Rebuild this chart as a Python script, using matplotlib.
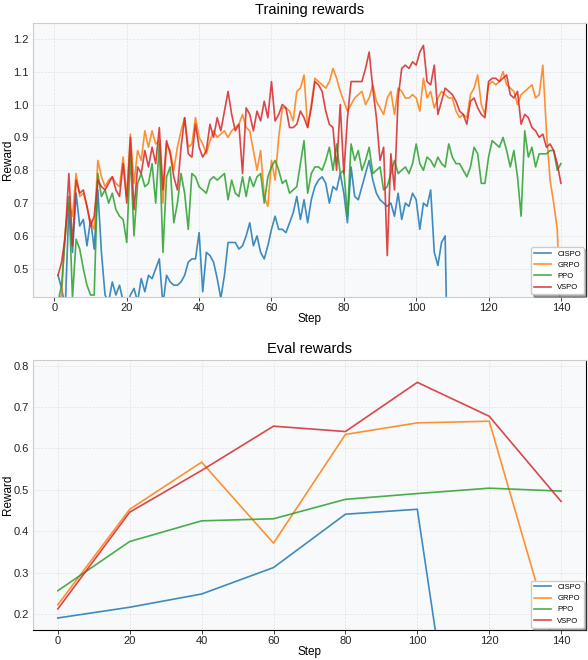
import matplotlib.pyplot as plt
import numpy as np

plt.rcParams['font.family'] = ['Liberation Sans', 'DejaVu Sans']

# training rewards, one value per step (1..140)
train_steps = list(range(1, 141))

vspo_train = [
    0.48, 0.52, 0.60, 0.79, 0.57, 0.77, 0.73, 0.74, 0.69, 0.63,
    0.66, 0.77, 0.75, 0.74, 0.76, 0.78, 0.74, 0.72, 0.82, 0.70,
    0.90, 0.68, 0.81, 0.79, 0.86, 0.81, 0.87, 0.82, 0.93, 0.74,
    0.89, 0.85, 0.78, 0.74, 0.87, 0.96, 0.85, 0.84, 0.94, 0.87,
    0.84, 0.86, 0.94, 0.90, 0.96, 0.92, 0.98, 1.04, 0.97, 0.92,
    0.94, 0.79, 0.99, 0.97, 0.92, 0.98, 0.95, 1.01, 0.96, 1.07,
    0.95, 0.97, 1.00, 0.99, 0.93, 0.93, 0.94, 0.98, 0.96, 0.93,
    0.99, 1.07, 1.06, 1.04, 0.98, 0.94, 0.93, 0.80, 1.00, 0.79,
    0.96, 1.07, 1.07, 1.07, 1.07, 1.11, 1.16, 1.05, 0.96, 0.83,
    0.87, 0.54, 0.85, 0.74, 1.02, 1.11, 1.12, 1.11, 1.13, 1.12,
    1.16, 1.18, 1.07, 1.06, 1.12, 0.97, 1.01, 1.05, 1.04, 1.03,
    1.01, 0.98, 0.97, 0.94, 1.01, 1.02, 0.99, 0.97, 0.96, 1.07,
    1.08, 1.08, 1.07, 1.08, 1.09, 1.03, 1.02, 1.04, 0.94, 0.97,
    0.96, 0.93, 0.92, 0.90, 0.91, 0.87, 0.88, 0.86, 0.82, 0.76,
]

grpo_train = [
    0.40, 0.42, 0.62, 0.70, 0.66, 0.79, 0.72, 0.73, 0.69, 0.64,
    0.62, 0.83, 0.78, 0.75, 0.77, 0.78, 0.76, 0.75, 0.84, 0.72,
    0.91, 0.76, 0.86, 0.83, 0.92, 0.87, 0.92, 0.88, 0.89, 0.70,
    0.88, 0.86, 0.80, 0.87, 0.92, 0.96, 0.87, 0.88, 0.96, 0.90,
    0.88, 0.85, 0.89, 0.92, 0.90, 0.91, 0.92, 0.90, 0.92, 0.93,
    0.94, 0.97, 0.93, 0.92, 0.86, 0.80, 0.86, 0.72, 0.69, 0.83,
    0.77, 0.90, 0.99, 0.99, 0.98, 0.95, 1.04, 1.05, 1.09, 0.93,
    1.00, 1.08, 1.07, 1.06, 1.05, 1.07, 1.11, 1.08, 1.04, 1.01,
    0.98, 1.00, 1.02, 1.03, 1.04, 1.00, 1.02, 1.06, 1.01, 0.99,
    0.97, 1.02, 1.04, 0.97, 1.05, 1.04, 1.02, 1.02, 1.03, 1.02,
    0.98, 1.08, 1.02, 1.04, 0.99, 1.02, 1.04, 1.03, 1.02, 1.02,
    0.98, 0.96, 0.97, 0.96, 1.03, 1.05, 1.09, 1.00, 0.97, 1.06,
    1.07, 1.06, 1.07, 1.10, 1.06, 1.05, 1.04, 1.00, 1.03, 1.04,
    1.05, 1.06, 1.02, 1.03, 1.12, 0.92, 0.77, 0.70, 0.62, 0.30,
]

ppo_train = [
    0.40, 0.45, 0.60, 0.72, 0.41, 0.59, 0.56, 0.50, 0.45, 0.42,
    0.42, 0.79, 0.72, 0.74, 0.70, 0.73, 0.68, 0.66, 0.65, 0.58,
    0.85, 0.60, 0.76, 0.79, 0.75, 0.76, 0.82, 0.70, 0.88, 0.55,
    0.78, 0.81, 0.64, 0.70, 0.79, 0.73, 0.62, 0.79, 0.78, 0.75,
    0.74, 0.73, 0.77, 0.78, 0.77, 0.78, 0.79, 0.71, 0.77, 0.73,
    0.72, 0.78, 0.72, 0.78, 0.75, 0.78, 0.79, 0.70, 0.78, 0.81,
    0.83, 0.80, 0.76, 0.77, 0.73, 0.74, 0.75, 0.82, 0.89, 0.73,
    0.79, 0.81, 0.81, 0.80, 0.83, 0.87, 0.80, 0.88, 0.79, 0.80,
    0.66, 0.88, 0.83, 0.86, 0.80, 0.83, 0.87, 0.79, 0.80, 0.81,
    0.74, 0.75, 0.79, 0.83, 0.79, 0.80, 0.81, 0.79, 0.82, 0.88,
    0.82, 0.80, 0.84, 0.83, 0.81, 0.84, 0.82, 0.81, 0.88, 0.84,
    0.82, 0.82, 0.80, 0.78, 0.81, 0.87, 0.85, 0.76, 0.76, 0.84,
    0.89, 0.88, 0.87, 0.90, 0.86, 0.81, 0.86, 0.78, 0.66, 0.92,
    0.84, 0.87, 0.81, 0.85, 0.85, 0.85, 0.86, 0.86, 0.80, 0.82,
]

# CISPO stops after step 109
cispo_train = [
    0.48, 0.44, 0.38, 0.69, 0.55, 0.73, 0.63, 0.65, 0.57, 0.65,
    0.56, 0.74, 0.55, 0.42, 0.40, 0.46, 0.42, 0.45, 0.40, 0.38,
    0.42, 0.44, 0.40, 0.47, 0.43, 0.48, 0.47, 0.50, 0.53, 0.39,
    0.48, 0.46, 0.45, 0.45, 0.46, 0.48, 0.52, 0.53, 0.53, 0.61,
    0.43, 0.55, 0.54, 0.52, 0.47, 0.41, 0.48, 0.58, 0.58, 0.58,
    0.56, 0.57, 0.60, 0.64, 0.57, 0.60, 0.55, 0.53, 0.57, 0.62,
    0.66, 0.62, 0.62, 0.61, 0.64, 0.67, 0.72, 0.65, 0.71, 0.64,
    0.71, 0.75, 0.77, 0.78, 0.76, 0.70, 0.75, 0.74, 0.79, 0.73,
    0.64, 0.81, 0.72, 0.71, 0.75, 0.79, 0.83, 0.77, 0.73, 0.71,
    0.70, 0.69, 0.70, 0.66, 0.73, 0.65, 0.70, 0.69, 0.73, 0.71,
    0.62, 0.70, 0.69, 0.74, 0.55, 0.51, 0.58, 0.60, 0.00,
]

# eval rewards every 20 steps
eval_steps = [0, 20, 40, 60, 80, 100, 120, 140]
cispo_eval = [0.190, 0.216, 0.248, 0.312, 0.441, 0.453, -0.715]
grpo_eval = [0.222, 0.453, 0.567, 0.371, 0.634, 0.662, 0.666, 0.068]
ppo_eval = [0.256, 0.375, 0.425, 0.430, 0.477, 0.491, 0.504, 0.497]
vspo_eval = [0.212, 0.446, 0.547, 0.654, 0.641, 0.760, 0.678, 0.472]

names = ['CISPO', 'GRPO', 'PPO', 'VSPO']
colors = ['#1f77b4', '#ff7f0e', '#2ca02c', '#d62728']


def style_axes(ax):
    ax.set_facecolor('#f7f9fb')
    ax.grid(True, linestyle='--', color='#e3e3e3', linewidth=0.5)
    ax.set_axisbelow(True)
    for s in ax.spines.values():
        s.set_color('#cccccc')
        s.set_linewidth(0.8)
    ax.spines['right'].set_color('black')
    ax.tick_params(axis='x', labelsize=8, length=3, width=0.6, pad=1.5, colors='#222222')
    ax.tick_params(axis='y', labelsize=8, length=0, pad=3, colors='#222222')
    ax.set_xticks([0, 20, 40, 60, 80, 100, 120, 140])


fig = plt.figure(figsize=(5.88, 6.6), dpi=100)

ax1 = fig.add_axes([0.0556, 0.5505, 0.9414, 0.415])
style_axes(ax1)
ax1.plot(train_steps[:len(cispo_train)], cispo_train, color=colors[0], lw=1.2, alpha=0.85, label=names[0])
ax1.plot(train_steps, grpo_train, color=colors[1], lw=1.2, alpha=0.85, label=names[1])
ax1.plot(train_steps, ppo_train, color=colors[2], lw=1.2, alpha=0.85, label=names[2])
ax1.plot(train_steps, vspo_train, color=colors[3], lw=1.2, alpha=0.85, label=names[3])
ax1.set_xlim(-6, 147)
ax1.set_ylim(0.415, 1.249)
ax1.set_yticks([0.5, 0.6, 0.7, 0.8, 0.9, 1.0, 1.1, 1.2])
ax1.set_title('Training rewards', fontsize=10.5, pad=6)
ax1.set_xlabel('Step', fontsize=8.5, labelpad=0)
ax1.set_ylabel('Reward', fontsize=8.5)
ax1.yaxis.set_label_coords(-0.034, 0.5)
ax1.legend(loc='lower right', fontsize=5.5, shadow=True, framealpha=1,
           edgecolor='#cccccc', handlelength=2.2, borderaxespad=0.3)

ax2 = fig.add_axes([0.0556, 0.0455, 0.9414, 0.409])
style_axes(ax2)
ax2.spines['bottom'].set_color('black')
ax2.tick_params(axis='x', pad=1)
ax2.plot(eval_steps[:len(cispo_eval)], cispo_eval, color=colors[0], lw=1.2, alpha=0.85, label=names[0])
ax2.plot(eval_steps, grpo_eval, color=colors[1], lw=1.2, alpha=0.85, label=names[1])
ax2.plot(eval_steps, ppo_eval, color=colors[2], lw=1.2, alpha=0.85, label=names[2])
ax2.plot(eval_steps, vspo_eval, color=colors[3], lw=1.2, alpha=0.85, label=names[3])
ax2.set_xlim(-7, 147)
ax2.set_ylim(0.161, 0.814)
ax2.set_yticks([0.2, 0.3, 0.4, 0.5, 0.6, 0.7, 0.8])
ax2.set_title('Eval rewards', fontsize=10.5, pad=5)
ax2.set_xlabel('Step', fontsize=8.5, labelpad=0)
ax2.set_ylabel('Reward', fontsize=8.5)
ax2.yaxis.set_label_coords(-0.034, 0.5)
ax2.legend(loc='lower right', fontsize=5.5, shadow=True, framealpha=1,
           edgecolor='#cccccc', handlelength=2.2, borderaxespad=0.3)

fig.savefig('out.png', dpi=100)
